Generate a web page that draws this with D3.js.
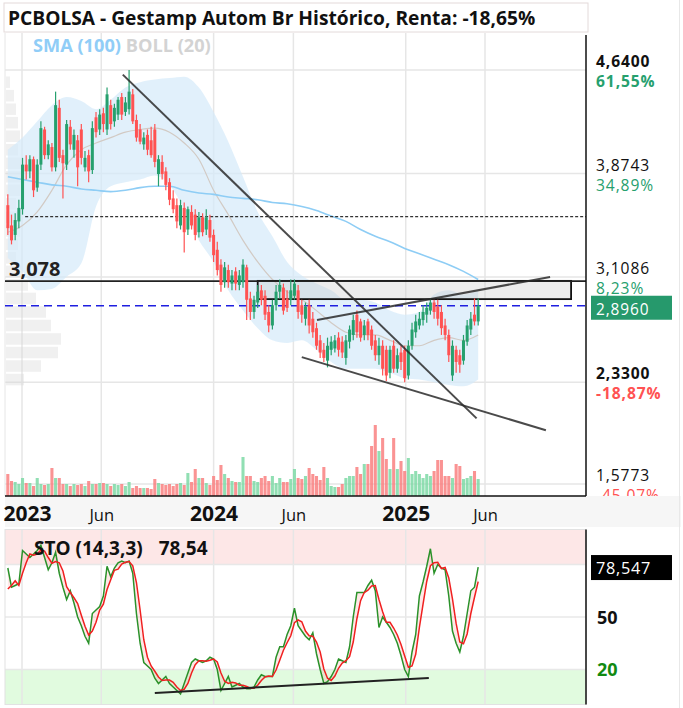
<!DOCTYPE html>
<html><head><meta charset="utf-8">
<script src="https://cdn.jsdelivr.net/npm/d3@7"></script>
<style>
body{margin:0;background:#fff}
text{font-family:"Open Sans",Roboto,"Noto Sans",sans-serif}
</style></head>
<body><svg id="c" width="683" height="708"></svg>
<script>
// ---------- DATA ----------
const firstWeek = "2022-12-05";
const opens = [3.64,3.49,3.42,3.52,3.61,3.94,3.89,3.98,3.77,3.94,
4.20,4.01,4.07,3.92,4.36,4.01,3.94,4.22,4.05,4.12,
4.20,3.92,4.01,3.90,4.29,4.20,4.32,4.20,4.38,4.26,
4.31,4.44,4.33,4.35,4.46,4.27,4.20,4.09,4.16,4.12,
4.20,3.87,3.96,3.89,3.81,3.69,3.64,3.49,3.62,3.46,
3.59,3.57,3.44,3.55,3.46,3.53,3.42,3.31,3.20,3.07,
3.16,3.06,3.15,3.05,3.07,3.18,2.95,2.85,2.92,3.01,
2.97,2.85,2.75,2.90,3.00,3.03,2.95,2.94,2.97,3.01,
2.90,2.80,2.90,2.80,2.73,2.64,2.57,2.49,2.57,2.58,
2.66,2.63,2.51,2.63,2.68,2.83,2.78,2.68,2.78,2.72,
2.64,2.53,2.60,2.57,2.40,2.60,2.43,2.55,2.57,2.38,
2.60,2.70,2.75,2.79,2.83,2.86,2.92,2.89,2.85,2.75,
2.68,2.38,2.57,2.53,2.49,2.63,2.72,2.83,2.78];
const closes = [3.47,3.38,3.53,3.62,3.94,3.89,3.98,3.75,3.94,4.21,
4.01,4.09,3.92,4.38,3.99,3.95,4.24,4.09,4.16,3.92,
3.99,3.99,3.89,4.21,4.18,4.31,4.24,4.46,4.24,4.36,
4.42,4.31,4.40,4.48,4.26,4.14,4.11,4.14,4.05,4.01,
3.96,3.98,3.87,3.79,3.68,3.61,3.52,3.64,3.44,3.61,
3.49,3.42,3.55,3.44,3.55,3.40,3.27,3.16,3.05,3.18,
3.07,3.12,3.06,3.12,3.20,2.94,2.85,2.94,3.00,2.94,
2.83,2.75,2.90,3.00,3.05,2.86,2.88,3.01,3.06,2.85,
2.83,2.89,2.75,2.70,2.60,2.55,2.51,2.60,2.63,2.64,
2.57,2.55,2.64,2.72,2.79,2.70,2.66,2.75,2.68,2.60,
2.53,2.60,2.43,2.38,2.57,2.43,2.53,2.48,2.36,2.60,
2.72,2.78,2.80,2.85,2.88,2.92,2.85,2.80,2.73,2.68,
2.53,2.60,2.48,2.46,2.64,2.75,2.80,2.78,2.896];
const highs = [3.72,3.57,3.58,3.68,3.99,4.01,4.01,4.00,3.98,4.26,
4.22,4.12,4.10,4.48,4.42,4.05,4.27,4.27,4.20,4.16,
4.24,4.04,4.05,4.26,4.33,4.35,4.36,4.51,4.42,4.39,
4.44,4.47,4.44,4.64,4.50,4.31,4.24,4.18,4.20,4.22,
4.24,4.01,4.01,3.92,3.84,3.75,3.69,3.68,3.66,3.63,
3.64,3.61,3.59,3.58,3.61,3.57,3.46,3.37,3.24,3.22,
3.20,3.16,3.18,3.16,3.24,3.20,3.00,2.97,3.05,3.05,
3.01,2.90,2.94,3.05,3.09,3.06,3.01,3.09,3.09,3.05,
2.94,2.92,2.94,2.85,2.77,2.68,2.62,2.66,2.67,2.68,
2.70,2.67,2.68,2.75,2.83,2.86,2.80,2.79,2.80,2.75,
2.68,2.66,2.64,2.60,2.60,2.64,2.58,2.60,2.60,2.64,
2.77,2.83,2.85,2.90,2.92,2.95,2.94,2.94,2.90,2.80,
2.72,2.64,2.60,2.57,2.68,2.79,2.85,2.95,2.95];
const lows = [3.42,3.35,3.38,3.47,3.57,3.83,3.84,3.70,3.74,3.90,
3.98,3.98,3.89,3.89,3.96,3.69,3.90,4.05,3.99,3.78,
3.94,3.89,3.81,3.87,4.14,4.16,4.18,4.16,4.20,4.22,
4.27,4.27,4.30,4.31,4.24,4.11,4.09,4.05,4.01,3.99,
3.92,3.78,3.83,3.75,3.64,3.58,3.47,3.46,3.29,3.42,
3.46,3.38,3.40,3.41,3.42,3.37,3.22,3.12,3.00,3.03,
3.03,3.01,3.01,3.01,3.03,2.79,2.79,2.80,2.88,2.90,
2.79,2.70,2.72,2.86,2.95,2.83,2.85,2.90,2.94,2.80,
2.77,2.75,2.69,2.66,2.57,2.51,2.48,2.44,2.53,2.55,
2.52,2.51,2.46,2.58,2.64,2.66,2.63,2.64,2.64,2.57,
2.49,2.46,2.38,2.34,2.36,2.40,2.40,2.42,2.33,2.35,
2.57,2.66,2.72,2.75,2.77,2.83,2.80,2.75,2.68,2.64,
2.48,2.34,2.40,2.40,2.46,2.60,2.68,2.75,2.75];
const volumes = [220,150,140,120,180,130,130,100,180,120,
110,120,280,180,180,120,120,100,120,110,
120,100,150,120,120,130,130,120,100,120,
110,120,100,140,80,100,80,80,80,70,
170,130,120,110,120,100,120,130,110,230,
140,270,180,180,130,110,200,160,310,220,
180,150,140,140,390,200,200,150,140,180,
200,150,200,130,180,140,140,170,270,180,
170,200,280,220,200,160,290,180,100,90,
90,120,180,200,200,290,220,320,320,500,
710,450,580,370,270,580,270,350,250,380,
220,250,220,180,220,200,250,360,360,200,
200,180,320,300,170,180,200,250,170];
// indicator samples every 4 weeks (week index 0,4,...,128)
const bandWeeks = d3.range(0,129,4);
const bollUpper = [4.05,4.14,4.26,4.38,4.44,4.41,4.35,4.42,4.51,4.55,4.57,4.58,4.59,4.51,4.33,4.11,3.85,3.59,3.41,3.22,3.12,3.06,3.01,2.94,2.94,2.92,2.86,2.83,2.85,2.98,3.01,2.98,3.01];
const bollLower = [3.25,3.15,3.01,3.02,3.11,3.21,3.63,3.78,3.81,3.83,3.86,3.79,3.61,3.38,3.22,3.01,2.86,2.73,2.64,2.62,2.64,2.57,2.48,2.43,2.43,2.43,2.40,2.36,2.35,2.33,2.31,2.30,2.35];
const bollMid = [3.44,3.49,3.59,3.75,3.94,4.05,4.10,4.14,4.18,4.20,4.21,4.18,4.10,3.98,3.75,3.57,3.38,3.22,3.09,3.00,2.94,2.86,2.77,2.70,2.68,2.68,2.64,2.60,2.60,2.64,2.66,2.64,2.68];
const sma100 = [3.85,3.83,3.81,3.79,3.78,3.76,3.75,3.74,3.75,3.77,3.78,3.78,3.75,3.73,3.72,3.70,3.69,3.68,3.66,3.65,3.63,3.60,3.56,3.52,3.46,3.41,3.37,3.32,3.28,3.24,3.20,3.15,3.09];
// volume profile (price bin lower bound, relative volume)
const profileBins = [2.30,2.40,2.50,2.60,2.70,2.80,2.90,3.00,3.10,3.20,3.30,3.40,3.50,3.60,3.70,3.80,3.90,4.00,4.10,4.20,4.30,4.40,4.50];
const profileVol  = [18,35,52,55,45,40,30,22,15,10,12,14,12,10,14,18,16,12,14,12,10,8,4];
// stochastic
const stoK = [78,67,68,69,88,86,84,86,88,91,
84,77,81,87,75,67,60,65,58,50,
45,39,35,52,54,56,62,79,73,78,
81,82,81,82,75,52,35,24,22,20,
15,12,14,16,12,10,8,6,12,18,
24,26,25,24,25,27,26,20,8,12,
16,10,11,12,10,9,9,10,14,17,
16,16,16,27,33,33,40,45,55,45,
42,39,37,41,29,20,12,13,16,20,
26,25,24,33,50,64,64,64,68,71,
65,44,50,47,44,40,35,28,20,16,
30,40,62,70,79,89,75,80,78,77,
62,42,35,30,39,52,65,67,78.547];
const stoD = [66,68,70.7,68,75,81,86,85.3,86,88.3,
87.7,84,80.7,81.7,81,76.3,67.3,64,61,57.7,
51,44.7,39.7,42,47,54,57.3,65.7,71.3,76.7,
77.3,80.3,81.3,81.7,79.3,69.7,54,37,27,22,
19,15.7,13.7,14,14,12.7,10,8,8.7,12,
18,22.7,25,25,24.7,25.3,26,24.3,18,13.3,
12,12.7,12.3,11,11,10.3,9.3,9.3,11,13.7,
15.7,16.3,16,19.7,25.3,31,35.3,39.3,46.7,48.3,
47.3,42,39.3,39,35.7,30,20.3,15,13.7,16.3,
20.7,23.7,25,27.3,35.7,49,59.3,64,65.3,67.7,
68,60,53,47,47,43.7,39.7,34.3,27.7,21.3,
22,28.7,44,57.3,70.3,79.3,81,81.3,77.7,78.3,
72.3,60.3,46.3,35.7,34.7,40.3,52,61.3,70.2];
// axis ticks
const priceTicks = [4.6400,3.8743,3.1086,2.3300,1.5773];
const pctLabels = ["61,55%","34,89%","8,23%","-18,87%","-45,07%"];
const dateTicks = ["2023-01-01","2023-06-01","2024-01-01","2024-06-01","2025-01-01","2025-06-01"];
const dateLabels = ["2023","Jun","2024","Jun","2025","Jun"];
const stoTicks = [50,20];
// annotations (date, price)
const trendLines = [
  [["2023-07-12",4.606],["2025-05-16",2.063]],
  [["2024-06-17",2.516],["2025-09-25",1.975]],
  [["2024-07-16",2.790],["2025-10-03",3.109]]
];
const zoneBox = [["2024-03-25",3.080],["2025-11-12",2.945]];
const levelLine = 3.078;
const dottedLevel = 3.555;
const dottedStart = "2023-01-07";
const stoTrend = [["2023-09-11",6.6],["2025-02-14",15.1]];

// ---------- DRAW ----------
const svg = d3.select("#c");
const pd = d3.utcParse("%Y-%m-%d");
const W0 = pd(firstWeek);
const weeks = closes.map((_, i) => d3.utcDay.offset(W0, i*7));
const L = 5, R = 586, T = 33, B = 496;
const x = d3.scaleUtc().domain([pd("2023-01-01"), pd("2025-06-01")]).range([22, 485]);
const y = d3.scaleLinear().domain([priceTicks[4], priceTicks[0]]).range([484, 70]);
const SY0 = 529.5, SY1 = 704.5;
const ys = d3.scaleLinear().domain([0,100]).range([SY1, SY0]);
const vy = d3.scaleLinear().domain([0, d3.max(volumes)]).range([B, B-71]);
const pw = d3.scaleLinear().domain([0, d3.max(profileVol)]).range([0, 55]);

const GREEN = "#26a06e", RED = "#ff5252";
const AXF = "Roboto,'Open Sans',sans-serif";

svg.append("defs").append("clipPath").attr("id","mclip").append("rect")
  .attr("x",L).attr("y",T).attr("width",R-L).attr("height",B-T);
svg.select("defs").append("clipPath").attr("id","sclip").append("rect")
  .attr("x",L).attr("y",SY0).attr("width",R-L).attr("height",SY1-SY0);

// title bar
svg.append("rect").attr("x",4).attr("y",3).attr("width",584).attr("height",29)
  .attr("fill","#fff").attr("stroke","#e3dada");
svg.append("text").attr("x",8).attr("y",25).attr("font-size",19.2).attr("font-weight","bold")
  .attr("fill","#111").text("PCBOLSA - Gestamp Autom Br Histórico, Renta: -18,65%");

// x axis band
svg.append("rect").attr("x",L).attr("y",B).attr("width",R-L+95).attr("height",31).attr("fill","#f6f6f6");
// right edge line
svg.append("line").attr("x1",679.5).attr("x2",679.5).attr("y1",0).attr("y2",708).attr("stroke","#e8e8e8");

// main gridlines
const main = svg.append("g");
main.append("line").attr("x1",L).attr("x2",L).attr("y1",T).attr("y2",B).attr("stroke","#e6e6e6");
main.selectAll(".vg").data(dateTicks).join("line")
  .attr("x1",d=>x(pd(d))).attr("x2",d=>x(pd(d))).attr("y1",T).attr("y2",B).attr("stroke","#e6e6e6").attr("stroke-width",1.5);
main.selectAll(".hg").data(priceTicks).join("line")
  .attr("x1",L).attr("x2",R).attr("y1",d=>y(d)).attr("y2",d=>y(d)).attr("stroke","#e6e6e6").attr("stroke-width",1.5);

const mc = svg.append("g").attr("clip-path","url(#mclip)");

// volume profile
mc.selectAll(".vp").data(profileBins).join("rect")
  .attr("x",L+1).attr("y",(d)=>y(d+0.1)+1).attr("height",(d)=>y(d)-y(d+0.1)-2)
  .attr("width",(d,i)=>pw(profileVol[i])).attr("fill","#d8d8d8").attr("opacity",0.38);

// bollinger
const bw = bandWeeks.map(i => weeks[i]);
mc.append("path").datum(bandWeeks.map((_,k)=>k))
  .attr("d", d3.area().curve(d3.curveMonotoneX).x(k=>x(bw[k])).y0(k=>y(bollLower[k])).y1(k=>y(bollUpper[k])))
  .attr("fill","#d4eafa").attr("opacity",0.7);
mc.append("path").datum(bandWeeks.map((_,k)=>k))
  .attr("d", d3.line().curve(d3.curveMonotoneX).x(k=>x(bw[k])).y(k=>y(bollMid[k])))
  .attr("fill","none").attr("stroke","#d2cac4").attr("stroke-width",1.2);
mc.append("path").datum(bandWeeks.map((_,k)=>k))
  .attr("d", d3.line().curve(d3.curveMonotoneX).x(k=>x(bw[k])).y(k=>y(sma100[k])))
  .attr("fill","none").attr("stroke","#8ecdf5").attr("stroke-width",1.6);

// volume bars
const bwid = x(weeks[1]) - x(weeks[0]);
mc.selectAll(".vol").data(volumes).join("rect")
  .attr("x",(d,i)=>x(weeks[i]) - bwid/2 + 0.3).attr("width",bwid-0.6)
  .attr("y",d=>vy(d)).attr("height",d=>B - vy(d))
  .attr("fill",(d,i)=> closes[i] >= opens[i] ? "#7ed9a6" : "#f98080").attr("opacity",0.85);

// dotted level
mc.append("line").attr("x1",x(pd(dottedStart))).attr("x2",R+4).attr("y1",y(dottedLevel)).attr("y2",y(dottedLevel))
  .attr("stroke","#333").attr("stroke-width",1.3).attr("stroke-dasharray","3,2");
// zone box
mc.append("rect").attr("x",x(pd(zoneBox[0][0]))).attr("y",y(zoneBox[0][1]))
  .attr("width",x(pd(zoneBox[1][0]))-x(pd(zoneBox[0][0]))).attr("height",y(zoneBox[1][1])-y(zoneBox[0][1]))
  .attr("fill","#c8c8c8").attr("fill-opacity",0.35).attr("stroke","#111").attr("stroke-width",1.8);
// 3,078 level
mc.append("line").attr("x1",L).attr("x2",R).attr("y1",y(levelLine)).attr("y2",y(levelLine))
  .attr("stroke","#222").attr("stroke-width",1.8);
// blue dashed last price
mc.append("line").attr("x1",L).attr("x2",R).attr("y1",y(closes[closes.length-1])).attr("y2",y(closes[closes.length-1]))
  .attr("stroke","#1f1fe0").attr("stroke-width",1.6).attr("stroke-dasharray","8,5");

// candles
const cg = mc.append("g");
cg.selectAll(".wick").data(closes).join("line")
  .attr("x1",(d,i)=>x(weeks[i])).attr("x2",(d,i)=>x(weeks[i]))
  .attr("y1",(d,i)=>y(highs[i])).attr("y2",(d,i)=>y(lows[i]))
  .attr("stroke",(d,i)=> d>=opens[i]?GREEN:RED).attr("stroke-width",1.2);
cg.selectAll(".body").data(closes).join("rect")
  .attr("x",(d,i)=>x(weeks[i]) - 1.5).attr("width",3)
  .attr("y",(d,i)=>y(Math.max(d,opens[i])))
  .attr("height",(d,i)=>Math.max(1, Math.abs(y(d)-y(opens[i]))))
  .attr("fill",(d,i)=> d>=opens[i]?GREEN:RED);

// trend lines
mc.selectAll(".tl").data(trendLines).join("line")
  .attr("x1",d=>x(pd(d[0][0]))).attr("y1",d=>y(d[0][1]))
  .attr("x2",d=>x(pd(d[1][0]))).attr("y2",d=>y(d[1][1]))
  .attr("stroke","#2a2a2a").attr("stroke-width",2).attr("stroke-opacity",0.85);

// level label
svg.append("text").attr("x",9).attr("y",y(levelLine)-5).attr("font-size",20).attr("font-weight","bold")
  .attr("fill","#222").text(String(levelLine).replace(".",","));

// legend
const lg = svg.append("text").attr("x",33).attr("y",52).attr("font-size",18.2).attr("font-weight","bold");
lg.append("tspan").attr("fill","#90cdf7").text("SMA (100) ");
lg.append("tspan").attr("fill","#d3d3d3").text("BOLL (20)");

// axis frame
svg.append("line").attr("x1",R).attr("x2",R).attr("y1",T+2).attr("y2",B).attr("stroke","#111").attr("stroke-width",1.5);
svg.append("line").attr("x1",L).attr("x2",R).attr("y1",B).attr("y2",B).attr("stroke","#111").attr("stroke-width",1.5);

// price labels
const maxH = d3.max(highs), minL = d3.min(lows);
const pl = svg.append("g").attr("font-family",AXF);
priceTicks.forEach((v,i)=>{
  const bold = Math.abs(v-maxH)<1e-6 || Math.abs(v-minL)<1e-6;
  pl.append("text").attr("x",596).attr("y",y(v)-3).attr("font-size",15.6).attr("letter-spacing",0.9)
    .attr("font-family",AXF)
    .attr("font-weight",bold?"bold":"normal").attr("fill","#111").text(v.toFixed(4).replace(".",","));
  pl.append("text").attr("x",596).attr("y",y(v)+17).attr("font-size",15.6).attr("letter-spacing",0.9)
    .attr("font-family",AXF)
    .attr("font-weight",bold?"bold":"normal").attr("fill",pctLabels[i][0]==="-"?RED:GREEN).text(pctLabels[i]);
});
// cover bottom overflow of last pct label
svg.append("rect").attr("x",R+1).attr("y",B).attr("width",92).attr("height",31).attr("fill","#f6f6f6");
svg.append("line").attr("x1",679.5).attr("x2",679.5).attr("y1",B).attr("y2",B+31).attr("stroke","#e8e8e8");
// current price tag
const last = closes[closes.length-1];
svg.append("rect").attr("x",591).attr("y",y(last)-10).attr("width",81).attr("height",24).attr("fill","#26996c");
svg.append("text").attr("x",596).attr("y",y(last)+9).attr("font-size",15.4).attr("letter-spacing",0.9)
  .attr("font-family",AXF).attr("fill","#fff").text(last.toFixed(4).replace(".",","));

// x axis
const xa = svg.append("g").attr("transform",`translate(0,${B})`)
  .call(d3.axisBottom(x).tickValues(dateTicks.map(pd)).tickSize(0).tickPadding(0)
    .tickFormat((d,i)=>dateLabels[i]));
xa.select(".domain").remove();
xa.selectAll("text").attr("y",25).attr("dy",0).attr("fill","#111")
  .attr("font-family","'Open Sans',Roboto,sans-serif")
  .attr("font-size",(d,i)=>/^\d+$/.test(dateLabels[i])?21:16.5)
  .attr("font-weight",(d,i)=>/^\d+$/.test(dateLabels[i])?"bold":"normal");
// keep labels inside the left edge
xa.selectAll(".tick").each(function(d){
  const t = d3.select(this).select("text");
  const w = t.node().getComputedTextLength();
  const left = x(d) - w/2;
  if (left < 3) t.attr("x", 3 - left);
});

// ---------- STOCHASTIC PANEL ----------
const sp = svg.append("g");
sp.append("rect").attr("x",L).attr("y",SY0).attr("width",R-L).attr("height",SY1-SY0).attr("fill","#fff");
sp.append("rect").attr("x",L).attr("y",ys(100)).attr("width",R-L).attr("height",ys(80)-ys(100)).attr("fill","#fde7e7");
sp.append("rect").attr("x",L).attr("y",ys(20)).attr("width",R-L).attr("height",ys(0)-ys(20)).attr("fill","#e1fbdf");
sp.selectAll(".svg").data(dateTicks).join("line")
  .attr("x1",d=>x(pd(d))).attr("x2",d=>x(pd(d))).attr("y1",SY0).attr("y2",SY1).attr("stroke","#e6e6e6").attr("stroke-width",1.5);
sp.selectAll(".shg").data([80,50,20]).join("line")
  .attr("x1",L).attr("x2",R).attr("y1",d=>ys(d)).attr("y2",d=>ys(d)).attr("stroke","#e8e8e8").attr("stroke-width",1.5);
sp.append("rect").attr("x",L).attr("y",SY0).attr("width",R-L).attr("height",SY1-SY0)
  .attr("fill","none").attr("stroke","#e2e2e2");
const sc = svg.append("g").attr("clip-path","url(#sclip)");
const idx = d3.range(stoK.length);
sc.append("path").datum(idx)
  .attr("d", d3.area().x(i=>x(weeks[i])).y0(i=>ys(stoD[i])).y1(i=>ys(stoK[i])))
  .attr("fill","#ff8080").attr("opacity",0.18);
sc.append("path").datum(idx)
  .attr("d", d3.line().x(i=>x(weeks[i])).y(i=>ys(stoK[i])))
  .attr("fill","none").attr("stroke","#2a922a").attr("stroke-width",1.5);
sc.append("path").datum(idx)
  .attr("d", d3.line().x(i=>x(weeks[i])).y(i=>ys(stoD[i])))
  .attr("fill","none").attr("stroke","#f02020").attr("stroke-width",1.5);
sc.append("line").attr("x1",x(pd(stoTrend[0][0]))).attr("y1",ys(stoTrend[0][1]))
  .attr("x2",x(pd(stoTrend[1][0]))).attr("y2",ys(stoTrend[1][1]))
  .attr("stroke","#222").attr("stroke-width",2);
svg.append("line").attr("x1",R).attr("x2",R).attr("y1",SY0).attr("y2",SY1).attr("stroke","#111").attr("stroke-width",1.5);

const lastK = stoK[stoK.length-1];
const st = svg.append("text").attr("x",34).attr("y",555).attr("font-size",19).attr("font-weight","bold").attr("fill","#111");
st.append("tspan").text("STO (14,3,3)");
st.append("tspan").attr("dx",16).text((Math.floor(lastK*100)/100).toFixed(2).replace(".",","));

sp.selectAll(".stl").data(stoTicks).join("text")
  .attr("x",597).attr("y",d=>ys(d)+6.5).attr("font-size",18).attr("font-weight","bold")
  .attr("fill",d=>d===20?"#118a11":"#111").text(d=>d);
svg.append("rect").attr("x",591).attr("y",ys(lastK)-12).attr("width",81).attr("height",25).attr("fill","#000");
svg.append("text").attr("x",596).attr("y",ys(lastK)+6.5).attr("font-size",16.3).attr("letter-spacing",0.7)
  .attr("font-family",AXF).attr("fill","#fff").text(lastK.toFixed(3).replace(".",","));
</script></body></html>
